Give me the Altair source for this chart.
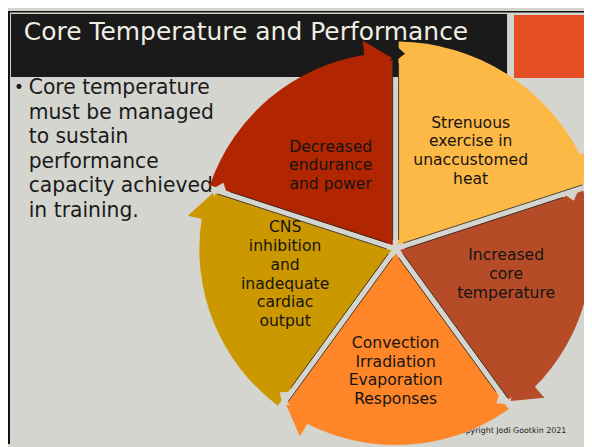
import math
import altair as alt
import pandas as pd

# ---------------- data ----------------
title_text = "Core Temperature and Performance"
bullet_lines = ["Core temperature", "must be managed", "to sustain",
                "performance", "capacity achieved", "in training."]
footer_text = "Copyright Jodi Gootkin 2021"
step_labels = [
    ["Strenuous", "exercise in", "unaccustomed", "heat"],
    ["Increased", "core", "temperature"],
    ["Convection", "Irradiation", "Evaporation", "Responses"],
    ["CNS", "inhibition", "and", "inadequate", "cardiac", "output"],
    ["Decreased", "endurance", "and power"],
]
step_share = [1, 1, 1, 1, 1]
step_colors = ["#FDB946", "#B64B28", "#FE8628", "#CC9800", "#B12600"]

# ---------------- layout ----------------
W, H = 584, 439
BG = "#D5D5D0"
BAR = "#1A1A1A"
BAR_BOX = (3, 506, 3, 67)
FONT = "DejaVu Sans"
CX, CY = 393, 241
R_OUT = [210, 199, 199, 199, 199]
LABEL_R = [125, 115, 124, 115, 107]
LABEL_SHIFT = [1.5, -5, 0, 5, -2]
LINE_H = 19
HALF_GAP = 3.0
PAD = 2 * math.asin(HALF_GAP / 200.0)


def polar(r, deg):
    return CX + r * math.sin(math.radians(deg)), CY - r * math.cos(math.radians(deg))


def in_bar(x, y):
    return BAR_BOX[0] <= x <= BAR_BOX[1] and BAR_BOX[2] <= y <= BAR_BOX[3]


total = sum(step_share)
bounds = []
acc = 0
for s in step_share:
    a0 = acc / total * 360.0
    acc += s
    bounds.append((a0, acc / total * 360.0))

seg_rows, head_rows, notch_rows, lab_rows, edge_rows = [], [], [], [], []
for i, (a0, a1) in enumerate(bounds):
    R = R_OUT[i]
    col = step_colors[i]
    seg_rows.append(dict(t0=math.radians(a0), t1=math.radians(a1), r=R - 8, color=col, layer=0))
    seg_rows.append(dict(t0=math.radians(a0), t1=math.radians(a1 - 8), r=R, color=col, layer=1))
    # arrow head near the clockwise end
    pa = a1 - 5.2
    hx, hy = polar(R - 6, pa)
    head_rows.append(dict(x=hx, y=hy, ang=pa, color=col))
    # tail notch at the start
    rn = R - 12
    pn = a0 + math.degrees((HALF_GAP + 4.5) / rn)
    nx, ny = polar(rn, pn)
    notch_rows.append(dict(x=nx, y=ny, ang=pn, color=BAR if in_bar(nx, ny) else BG))
    # dark edges along straight sides
    for side, rr in ((+1, R - 22), (-1, R - 10)):
        ang = a0 if side > 0 else a1
        ux, uy = math.cos(math.radians(ang)), math.sin(math.radians(ang))
        x1, y1 = polar(9, ang)
        x2, y2 = polar(rr, ang)
        edge_rows.append(dict(x=x1 + side * HALF_GAP * ux, y=y1 + side * HALF_GAP * uy,
                              x2=x2 + side * HALF_GAP * ux, y2=y2 + side * HALF_GAP * uy))
    # labels
    mid = (a0 + a1) / 2 + LABEL_SHIFT[i]
    lx, ly = polar(LABEL_R[i], mid)
    n = len(step_labels[i])
    for j, t in enumerate(step_labels[i]):
        lab_rows.append(dict(x=lx, y=ly + (j - (n - 1) / 2) * LINE_H, t=t))

seg_df = pd.DataFrame(seg_rows)
head_df = pd.DataFrame(head_rows)
notch_df = pd.DataFrame(notch_rows)
edge_df = pd.DataFrame(edge_rows)
lab_df = pd.DataFrame(lab_rows)
bul_df = pd.DataFrame(dict(t=bullet_lines, x=[21] * len(bullet_lines),
                           y=[84 + 25 * k for k in range(len(bullet_lines))]))
one = pd.DataFrame({"a": [0]})

X = lambda f: alt.X(f, scale=None, axis=None)
Y = lambda f: alt.Y(f, scale=None, axis=None)


def box(x0, x1, y0, y1, color):
    return alt.Chart(one).mark_rect(color=color).encode(
        x=alt.value(x0), x2=alt.value(x1), y=alt.value(y0), y2=alt.value(y1))


left_line = box(0, 2, 0, H, "#111111")
top_line = box(0, W, 0, 1.5, "#111111")
title_bar = box(BAR_BOX[0], BAR_BOX[1], BAR_BOX[2], BAR_BOX[3], BAR)
orange_box = box(513, W, 4, 68, "#E54D24")

title = alt.Chart(one).mark_text(
    text=title_text, align="left", baseline="alphabetic", font=FONT,
    fontSize=25.3, color="#F0EDE3").encode(x=alt.value(16), y=alt.value(29))

bullet = alt.Chart(one).mark_text(
    text="•", align="left", baseline="alphabetic", font=FONT,
    fontSize=17, color="#1A1A1A").encode(x=alt.value(6), y=alt.value(83))

bullets = alt.Chart(bul_df).mark_text(
    align="left", baseline="alphabetic", font=FONT, fontSize=20.6,
    color="#1A1A1A").encode(x=X("x:Q"), y=Y("y:Q"), text="t:N")

footer = alt.Chart(one).mark_text(
    text=footer_text, align="right", baseline="alphabetic", font=FONT,
    fontSize=8, color="#222222").encode(x=alt.value(566), y=alt.value(428))

arcs = alt.Chart(seg_df).mark_arc(innerRadius=5, padAngle=PAD).encode(
    theta=alt.Theta("t0:Q", scale=None),
    theta2="t1:Q",
    radius=alt.Radius("r:Q", scale=None),
    color=alt.Color("color:N", scale=None),
    order=alt.Order("layer:Q"),
    x=alt.value(CX), y=alt.value(CY))

heads = alt.Chart(head_df).mark_point(
    shape="M -0.7 -1 L 0.7 0 L -0.7 1 Z", size=1600, filled=True,
    opacity=1, strokeWidth=0).encode(
    x=X("x:Q"), y=Y("y:Q"), angle=alt.Angle("ang:Q", scale=None),
    color=alt.Color("color:N", scale=None))

notches = alt.Chart(notch_df).mark_point(
    shape="M -1 -1 L 0.2 0 L -1 1 Z", size=400, filled=True,
    opacity=1, strokeWidth=0).encode(
    x=X("x:Q"), y=Y("y:Q"), angle=alt.Angle("ang:Q", scale=None),
    color=alt.Color("color:N", scale=None))

edges = alt.Chart(edge_df).mark_rule(color="#2A2A2A", strokeWidth=1, opacity=0.85).encode(
    x=X("x:Q"), y=Y("y:Q"), x2="x2:Q", y2="y2:Q")

labels = alt.Chart(lab_df).mark_text(
    align="center", baseline="middle", font=FONT, fontSize=15.8,
    color="#141414").encode(x=X("x:Q"), y=Y("y:Q"), text="t:N")

chart = alt.layer(
    left_line, top_line, title_bar, bullet, bullets, footer,
    arcs, heads, notches, edges, orange_box, title, labels
).properties(
    width=W, height=H, padding=0, autosize="none", background=BG
).configure_view(stroke=None, fill=BG)

chart.save("out.html", embed_options={"renderer": "svg", "actions": False})
